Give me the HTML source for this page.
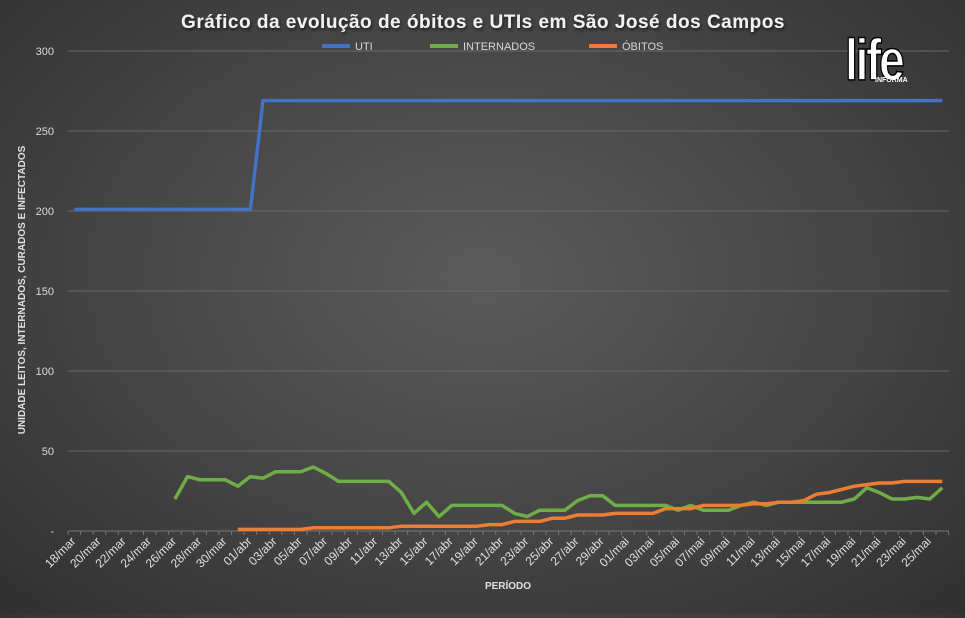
<!DOCTYPE html>
<html><head><meta charset="utf-8"><style>
html,body{margin:0;padding:0;}
body{width:965px;height:613px;overflow:hidden;background:radial-gradient(ellipse 75% 80% at 50% 45%,#5b5b5b 0%,#484848 45%,#2e2e2e 100%);font-family:"Liberation Sans",sans-serif;}
svg text{font-family:"Liberation Sans",sans-serif;}
</style></head><body>
<svg id="s" width="965" height="613" xmlns="http://www.w3.org/2000/svg">
<defs><filter id="sh" x="-10%" y="-10%" width="120%" height="130%"><feDropShadow dx="1" dy="2" stdDeviation="1.5" flood-color="#000" flood-opacity="0.6"/></filter></defs>
<text x="483" y="28" fill="#f2f2f2" font-size="19" font-weight="bold" text-anchor="middle" letter-spacing="0.5" filter="url(#sh)">Gráfico da evolução de óbitos e UTIs em São José dos Campos</text>
<g id="grid"></g>
<g font-size="11" fill="#d9d9d9">
<line x1="322" y1="46" x2="350" y2="46" stroke="#4472c4" stroke-width="4"/><text x="355" y="50">UTI</text>
<line x1="430" y1="46" x2="458" y2="46" stroke="#70ad47" stroke-width="4"/><text x="463" y="50">INTERNADOS</text>
<line x1="589" y1="46" x2="617" y2="46" stroke="#ed7d31" stroke-width="4"/><text x="622" y="50">ÓBITOS</text>
</g>
<text transform="translate(25,290) rotate(-90)" fill="#e0e0e0" font-size="10" font-weight="bold" text-anchor="middle">UNIDADE LEITOS, INTERNADOS, CURADOS E INFECTADOS</text>
<text x="508" y="589" fill="#e0e0e0" font-size="10" font-weight="bold" text-anchor="middle">PERÍODO</text>
<g id="series"></g>
<g transform="translate(845,20)">
<text x="0" y="60" fill="#fff" stroke="#000" stroke-width="1.5" font-size="58" font-weight="bold" letter-spacing="-3" transform="scale(0.8,1)">life</text>
<text x="30" y="62" fill="#fff" font-size="7" font-weight="bold">INFORMA</text>
</g>
</svg>
<script>
var NS="http://www.w3.org/2000/svg",g=document.getElementById('grid'),S=document.getElementById('series');
function el(t,a,p,txt){var e=document.createElementNS(NS,t);for(var k in a)e.setAttribute(k,a[k]);if(txt!=null)e.textContent=txt;p.appendChild(e);return e;}
function Y(v){return 531-v*1.6;}
function X(i){return 74.3+12.58*i;}
for(var v=50;v<=300;v+=50){el('line',{x1:68,x2:949,y1:Y(v),y2:Y(v),stroke:'#6a6a6a','stroke-width':1},g);}
for(var v=0;v<=300;v+=50){el('text',{x:54,y:Y(v)+4,fill:'#d9d9d9','font-size':11,'text-anchor':'end'},g,v==0?'-':String(v));}
el('line',{x1:68,x2:949,y1:531,y2:531,stroke:'#777','stroke-width':1},g);
for(var i=0;i<=70;i++){var x=68+12.58*i;el('line',{x1:x,x2:x,y1:531,y2:535,stroke:'#777'},g);}
var months=[['mar',18,31],['abr',1,30],['mai',1,26]],labs=[];
months.forEach(function(m){for(var d=m[1];d<=m[2];d++)labs.push((d<10?'0':'')+d+'/'+m[0]);});
for(var i=0;i<70;i+=2){var x=X(i)+2,y=542;el('text',{transform:'translate('+x+','+y+') rotate(-45)',fill:'#e0e0e0','font-size':12,'text-anchor':'end'},g,labs[i]);}
var uti=[];for(var i=0;i<70;i++)uti.push(i<=14?201:269);
var gv=[20,34,32,32,32,28,34,33,37,37,37,40,36,31,31,31,31,31,24,11,18,9,16,16,16,16,16,11,9,13,13,13,19,22,22,16,16,16,16,16,13,16,13,13,13,16,18,16,18,18,18,18,18,18,20,27,24,20,20,21,20,27];
var ob=[];var ov=[[13,18,1],[19,25,2],[26,32,3],[33,34,4],[35,37,6],[38,39,8],[40,42,10],[43,46,11],[47,49,14],[50,53,16],[54,55,17],[56,57,18],[58,58,19]];
ov.forEach(function(r){for(var i=r[0];i<=r[1];i++)ob[i]=r[2];});
[23,24,26,28,29,30,30,31,31,31,31].forEach(function(v,k){ob[59+k]=v;});
function line(arr,start,col){var p=[];for(var i=start;i<arr.length;i++)if(arr[i]!=null)p.push(X(i).toFixed(1)+','+Y(arr[i]).toFixed(1));el('polyline',{points:p.join(' '),fill:'none',stroke:col,'stroke-width':3.5,'stroke-linejoin':'round'},S);}
var gArr=[];gv.forEach(function(v,k){gArr[8+k]=v;});
line(gArr,8,'#70ad47');
line(ob,13,'#ed7d31');
line(uti,0,'#4472c4');
</script>
</body></html>
